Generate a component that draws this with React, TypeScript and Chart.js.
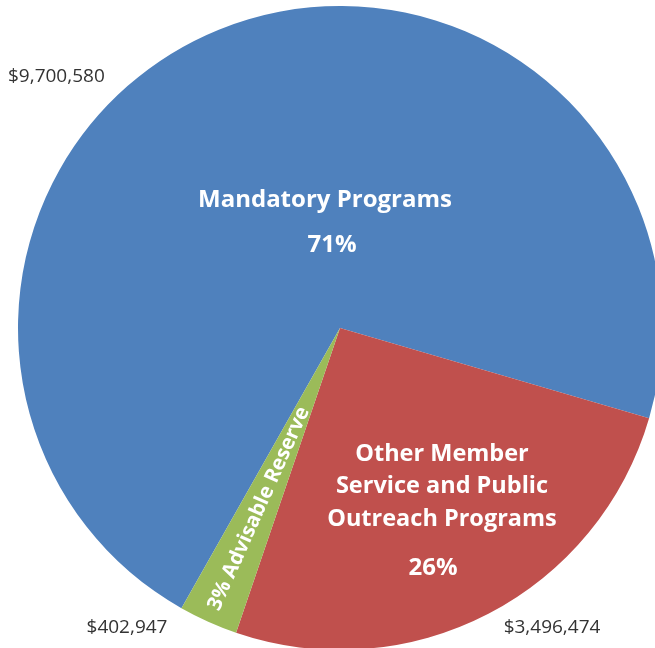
import React, { useEffect, useRef } from "react";
import { Chart, registerables } from "chart.js";

Chart.register(...registerables);

const categories = [
  "Mandatory Programs",
  "Other Member Service and Public Outreach Programs",
  "Advisable Reserve",
];
const amounts = [9700580, 3496474, 402947];
const percentLabels = ["71%", "26%", "3%"];
const amountLabels = ["$9,700,580", "$3,496,474", "$402,947"];
const sliceColors = ["#4F81BD", "#C0504D", "#9BBB59"];

const FONT = "'Open Sans', 'DejaVu Sans', sans-serif";

const labelPlugin = {
  id: "sliceLabels",
  afterDatasetsDraw(chart: any) {
    const meta = chart.getDatasetMeta(0);
    const arcs = meta.data;
    if (!arcs || !arcs.length) return;
    const cx = arcs[0].x;
    const cy = arcs[0].y;
    const ctx = chart.ctx;
    ctx.save();
    ctx.textBaseline = "middle";
    ctx.textAlign = "center";
    ctx.fillStyle = "#ffffff";

    // Mandatory
    ctx.font = `bold 24px ${FONT}`;
    ctx.fillText(categories[0], cx - 15, cy - 128);
    ctx.fillText(percentLabels[0], cx - 8, cy - 83);

    // Other member
    const otherLines = ["Other Member", "Service and Public", "Outreach Programs"];
    ctx.font = `bold 23.5px ${FONT}`;
    otherLines.forEach((l, i) => ctx.fillText(l, cx + 102, cy + 126 + i * 32.5));
    ctx.font = `bold 24px ${FONT}`;
    ctx.fillText(percentLabels[1], cx + 93, cy + 240);

    // Reserve rotated along its slice
    const g = arcs[2];
    const mid = (g.startAngle + g.endAngle) / 2;
    const dist = g.outerRadius * 0.615;
    const tx = cx + Math.cos(mid) * dist;
    const ty = cy + Math.sin(mid) * dist;
    ctx.save();
    ctx.translate(tx, ty);
    ctx.rotate(mid + Math.PI);
    ctx.font = `bold 20.5px ${FONT}`;
    ctx.fillText(percentLabels[2] + " " + categories[2], 0, 0);
    ctx.restore();

    // Amount labels
    ctx.fillStyle = "#333333";
    ctx.font = `19px ${FONT}`;
    ctx.textAlign = "left";
    ctx.fillText(amountLabels[0], cx - 332, cy - 251);
    ctx.textAlign = "center";
    ctx.fillText(amountLabels[2], cx - 213, cy + 300);
    ctx.fillText(amountLabels[1], cx + 212, cy + 300);
    ctx.restore();
  },
};

export default function App() {
  const ref = useRef<HTMLCanvasElement>(null);
  useEffect(() => {
    if (!ref.current) return;
    const chart = new Chart(ref.current, {
      type: "pie",
      data: {
        labels: categories,
        datasets: [
          {
            data: amounts,
            backgroundColor: sliceColors,
            borderWidth: 0,
          },
        ],
      },
      options: {
        responsive: false,
        animation: false,
        rotation: 209.5,
        layout: { padding: { left: 18, top: 6, right: 18, bottom: 10 } },
        plugins: {
          legend: { display: false },
          tooltip: { enabled: false },
        },
      },
      plugins: [labelPlugin],
    });
    return () => chart.destroy();
  }, []);
  return (
    <div
      style={{
        position: "fixed",
        left: 0,
        top: 0,
        width: 655,
        height: 648,
        overflow: "hidden",
        background: "#ffffff",
      }}
    >
      <canvas ref={ref} width={680} height={660} style={{ display: "block", width: 680, height: 660 }} />
    </div>
  );
}
